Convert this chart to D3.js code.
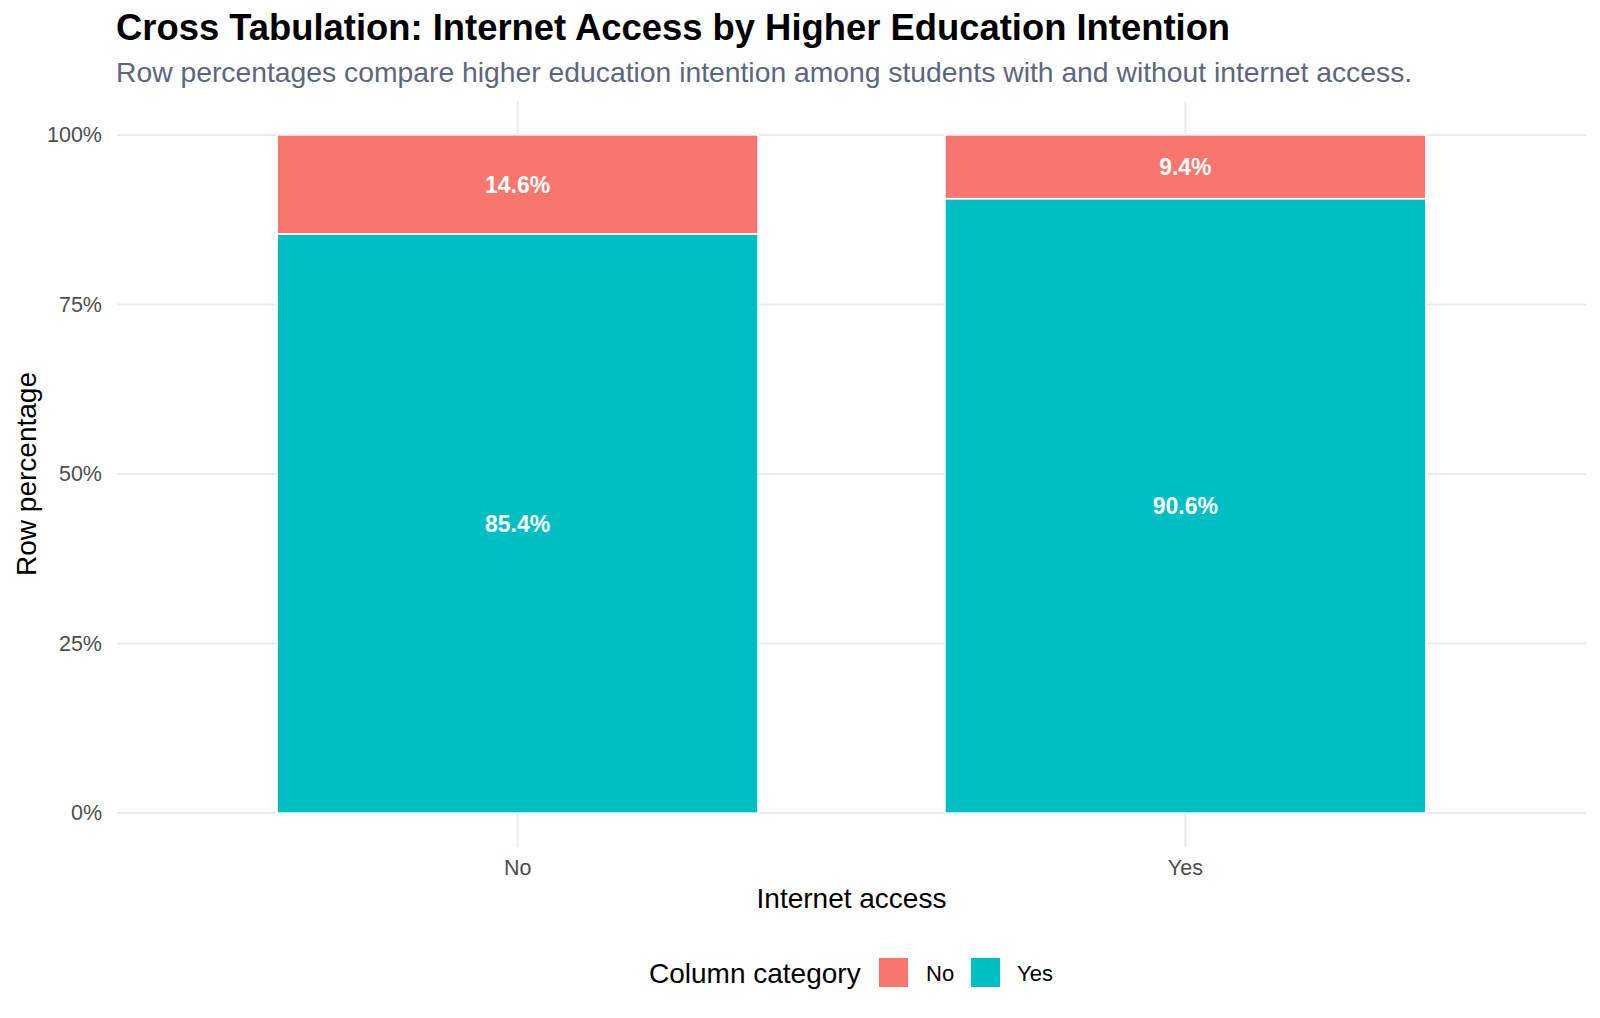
<!DOCTYPE html>
<html>
<head>
<meta charset="utf-8">
<script src="https://cdn.jsdelivr.net/npm/d3@7"></script>
<style>
  html, body { margin: 0; padding: 0; background: #ffffff; }
  svg text { font-family: "Liberation Sans", Arial, Helvetica, sans-serif; }
</style>
</head>
<body>
<svg id="chart" width="1600" height="1018"></svg>
<script>
// ---- data ----
const internetAccess = ["No", "Yes"];            // x categories (rows)
const columnCategories = ["No", "Yes"];          // stacked categories (higher education intention)
const pctNo  = [14.6, 9.4];                       // row % answering "No"
const pctYes = [85.4, 90.6];                      // row % answering "Yes"
const yTicks = [0, 0.25, 0.5, 0.75, 1];
const yTickLabels = ["0%", "25%", "50%", "75%", "100%"];
const titleText = "Cross Tabulation: Internet Access by Higher Education Intention";
const subtitleText = "Row percentages compare higher education intention among students with and without internet access.";

const colors = { "No": "#F8766D", "Yes": "#00BFC4" };

// ---- layout ----
const svg = d3.select("#chart");
const panel = { left: 117, right: 1586, top: 101, bottom: 847 };

const x = d3.scaleBand()
  .domain(internetAccess)
  .range([panel.left, panel.right])
  .paddingInner(0.28)
  .paddingOuter(0.24);

const y = d3.scaleLinear()
  .domain([-0.05, 1.05])
  .range([panel.bottom, panel.top]);

// stacked data: Yes on bottom, No on top
const rows = internetAccess.map((k, i) => ({ access: k, Yes: pctYes[i] / 100, No: pctNo[i] / 100 }));
const stack = d3.stack().keys(["Yes", "No"]);
const series = stack(rows);

// ---- gridlines ----
const grid = svg.append("g");
grid.selectAll("line.h").data(yTicks).enter().append("line")
  .attr("x1", panel.left).attr("x2", panel.right)
  .attr("y1", d => y(d)).attr("y2", d => y(d))
  .attr("stroke", "#EBEBEB").attr("stroke-width", 2);
grid.selectAll("line.v").data(internetAccess).enter().append("line")
  .attr("x1", d => x(d) + x.bandwidth() / 2).attr("x2", d => x(d) + x.bandwidth() / 2)
  .attr("y1", panel.top).attr("y2", panel.bottom)
  .attr("stroke", "#EBEBEB").attr("stroke-width", 2);

// ---- bars ----
const barG = svg.append("g");
series.forEach(s => {
  barG.selectAll(null).data(s).enter().append("rect")
    .attr("x", d => x(d.data.access))
    .attr("width", x.bandwidth())
    .attr("y", d => y(d[1]))
    .attr("height", d => y(d[0]) - y(d[1]))
    .attr("fill", colors[s.key])
    .attr("stroke", "#ffffff")
    .attr("stroke-width", 1.5);
});

// ---- bar labels ----
series.forEach(s => {
  barG.selectAll(null).data(s).enter().append("text")
    .attr("x", d => x(d.data.access) + x.bandwidth() / 2)
    .attr("y", d => y((d[0] + d[1]) / 2))
    .attr("dy", "0.36em")
    .attr("text-anchor", "middle")
    .attr("fill", "#ffffff")
    .attr("font-weight", "bold")
    .attr("font-size", 23)
    .text(d => ((d[1] - d[0]) * 100).toFixed(1) + "%");
});

// ---- axes ----
const yAxis = d3.axisLeft(y).tickValues(yTicks).tickFormat((d, i) => yTickLabels[i]).tickSize(0).tickPadding(15);
const yg = svg.append("g").attr("transform", `translate(${panel.left},0)`).call(yAxis);
yg.select(".domain").remove();
yg.selectAll("text").attr("fill", "#4D4D4D").attr("font-size", 21.5).style("font-family", "Liberation Sans, Arial, sans-serif");

const xAxis = d3.axisBottom(x).tickSize(0).tickPadding(13);
const xg = svg.append("g").attr("transform", `translate(0,${panel.bottom})`).call(xAxis);
xg.select(".domain").remove();
xg.selectAll("text").attr("fill", "#4D4D4D").attr("font-size", 21.5).style("font-family", "Liberation Sans, Arial, sans-serif");

// axis titles
svg.append("text")
  .attr("x", (panel.left + panel.right) / 2)
  .attr("y", 898).attr("dy", "0.36em")
  .attr("text-anchor", "middle")
  .attr("font-size", 28)
  .attr("fill", "#000000")
  .text("Internet access");

svg.append("text")
  .attr("transform", `translate(36,${(panel.top + panel.bottom) / 2}) rotate(-90)`)
  .attr("text-anchor", "middle")
  .attr("font-size", 28)
  .attr("fill", "#000000")
  .text("Row percentage");

// ---- title & subtitle ----
svg.append("text")
  .attr("x", 116).attr("y", 40)
  .attr("font-size", 36.4).attr("font-weight", "bold")
  .attr("fill", "#000000")
  .text(titleText);

svg.append("text")
  .attr("x", 116).attr("y", 82)
  .attr("font-size", 28.3)
  .attr("fill", "#5B677D")
  .text(subtitleText);

// ---- legend ----
const legend = svg.append("g");
legend.append("text")
  .attr("x", 649).attr("y", 973).attr("dy", "0.36em")
  .attr("font-size", 28).attr("fill", "#000000")
  .text("Column category");
const keyX = [879, 971];
const labX = [926, 1017];
columnCategories.forEach((c, i) => {
  legend.append("rect")
    .attr("x", keyX[i]).attr("y", 958)
    .attr("width", 29).attr("height", 29)
    .attr("fill", colors[c]);
  legend.append("text")
    .attr("x", labX[i]).attr("y", 973).attr("dy", "0.36em")
    .attr("font-size", 22).attr("fill", "#000000")
    .text(c);
});
</script>
</body>
</html>
